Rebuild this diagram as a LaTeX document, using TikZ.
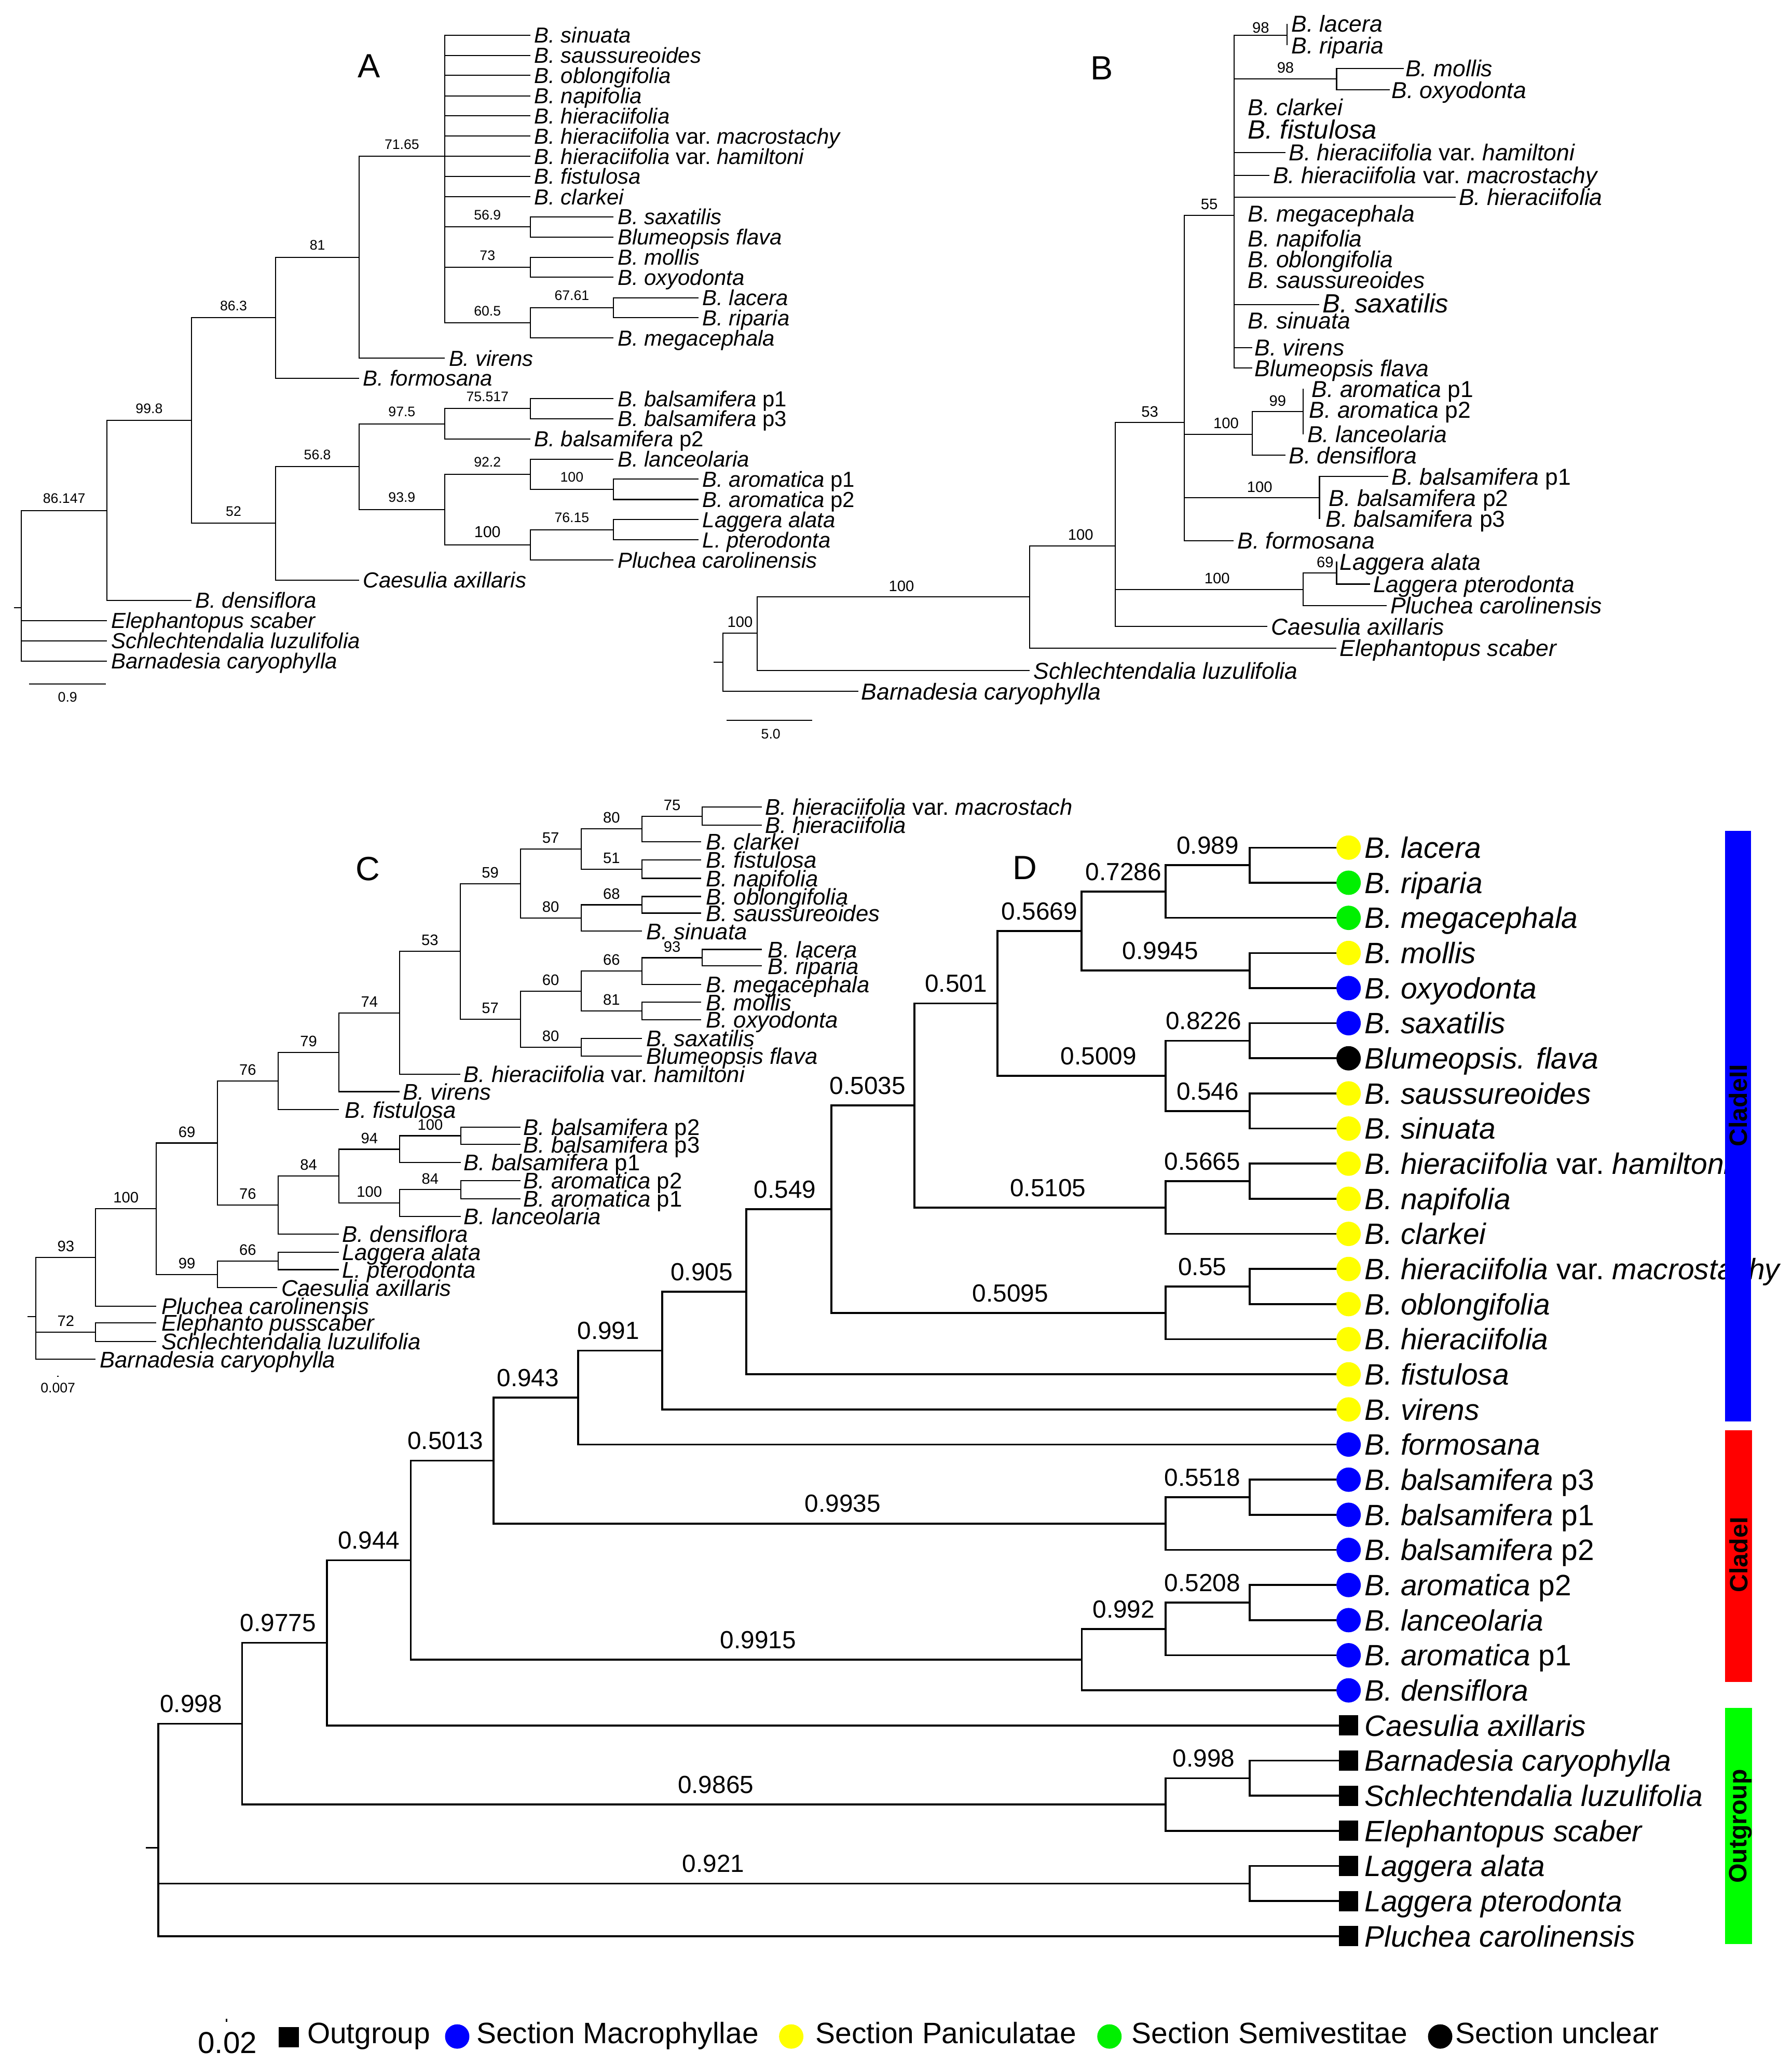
\documentclass[tikz,border=0pt]{standalone}
\usepackage{fontspec}
\setmainfont{Liberation Sans}
\definecolor{cyel}{RGB}{255,255,0}
\definecolor{cgrn}{RGB}{0,240,0}
\definecolor{cblu}{RGB}{0,0,255}
\definecolor{cred}{RGB}{255,0,0}
\definecolor{cbargrn}{RGB}{0,255,0}
\newcommand\fsz[1]{\fontsize{#1}{#1}\selectfont}
\newcommand\varup{{\upshape var.}}
\newcommand\pp[1]{{\upshape #1}}
\newcommand\leafA[5]{\coordinate (#2) at (#3,#4); \draw[brA] (#1) |- (#2); \node[lfA] (#2t) at (#3+3,#4) {#5};}
\newcommand\leafB[6]{\coordinate (#2) at (#3,#4); \draw[brB] (#1) |- (#2); \node[lfB] (#2t) at (#5,#4) {#6};}
\newcommand\leafC[6]{\coordinate (#2) at (#3,#4); \draw[brC] (#1) |- (#2); \node[lfC] (#2t) at (#5,#4) {#6};}
\newcommand\leafD[5]{\coordinate (#2) at (1016,#3); \draw[brD] (#1) |- (#2); \node[#4] (#2m) at (1023.5,#3) {}; \node[lfD] (#2t) at (1035.5,#3) {#5};}
\tikzset{
  brA/.style={line width=0.8pt},
  brB/.style={line width=0.8pt},
  brC/.style={line width=0.85pt},
  brD/.style={line width=1.4pt},
  lfA/.style={anchor=base west, inner sep=0pt, yshift=-5.9pt, font=\fsz{16.5}\itshape},
  lfB/.style={anchor=base west, inner sep=0pt, yshift=-6.3pt, font=\fsz{17.5}\itshape},
  lfC/.style={anchor=base west, inner sep=0pt, yshift=-6.2pt, font=\fsz{17.2}\itshape},
  lfD/.style={anchor=base west, inner sep=0pt, yshift=-8pt, font=\fsz{22.4}\itshape},
  bsA/.style={pos=0.75, anchor=south, inner sep=0pt, yshift=5pt, font=\fsz{10.5}},
  bsB/.style={pos=0.75, anchor=south, inner sep=0pt, yshift=3.8pt, font=\fsz{11.5}},
  bsC/.style={pos=0.75, anchor=south, inner sep=0pt, yshift=3.9pt, font=\fsz{11.5}},
  bsD/.style={pos=0.75, anchor=south, inner sep=0pt, yshift=7.7pt, font=\fsz{18.8}},
  panel/.style={inner sep=0pt, font=\fsz{25.5}},
  dotY/.style={circle, fill=cyel, inner sep=0pt, minimum size=18.5pt},
  dotG/.style={circle, fill=cgrn, inner sep=0pt, minimum size=18.5pt},
  dotB/.style={circle, fill=cblu, inner sep=0pt, minimum size=18.5pt},
  dotK/.style={circle, fill=black, inner sep=0pt, minimum size=18.5pt},
  sqK/.style={rectangle, fill=black, inner sep=0pt, minimum width=14.5pt, minimum height=15.3pt},
  lgt/.style={anchor=base west, inner sep=0pt, font=\fsz{22.4}},
  barlbl/.style={rotate=90, inner sep=0pt, font=\fsz{19}\bfseries},
  sclbl/.style={inner sep=0pt, font=\fsz{10.5}}
}
\begin{document}
\begin{tikzpicture}[x=1pt,y=-1pt]
\fill[white] (0,0) rectangle (1360,1568);
\useasboundingbox (0,0) rectangle (1360,1568);

% ================= Tree A =================
\node[panel] (pA) at (280,50) {A};
\coordinate (A0) at (16.2,461.2);
\coordinate (A0s) at (10.5,461.2);
\coordinate (A1) at (81.2,387.4);
\coordinate (A2) at (145.2,319.2);
\coordinate (A3) at (209.3,241.2);
\coordinate (A4) at (272.5,195.2);
\coordinate (A5) at (337.5,118.6);
\coordinate (A6) at (402.4,172.2);
\coordinate (A7) at (402.4,202.9);
\coordinate (A8) at (402.4,245);
\coordinate (A9) at (465.6,233.5);
\coordinate (A10) at (209.3,397.2);
\coordinate (A11) at (272.5,354.2);
\coordinate (A12) at (337.5,321.6);
\coordinate (A13) at (402.4,310.1);
\coordinate (A14) at (337.5,386.7);
\coordinate (A15) at (402.4,359.9);
\coordinate (A16) at (465.6,371.4);
\coordinate (A17) at (402.4,413.5);
\coordinate (A18) at (465.6,402);
\draw[brA] (A0s) -- (A0);
\draw[brA] (A0) |- node[bsA]{86.147} (A1);
\draw[brA] (A1) |- node[bsA]{99.8} (A2);
\draw[brA] (A2) |- node[bsA]{86.3} (A3);
\draw[brA] (A3) |- node[bsA]{81} (A4);
\draw[brA] (A4) |- node[bsA]{71.65} (A5);
\draw[brA] (A5) |- node[bsA]{56.9} (A6);
\draw[brA] (A5) |- node[bsA]{73} (A7);
\draw[brA] (A5) |- node[bsA]{60.5} (A8);
\draw[brA] (A8) |- node[bsA]{67.61} (A9);
\draw[brA] (A2) |- node[bsA]{52} (A10);
\draw[brA] (A10) |- node[bsA]{56.8} (A11);
\draw[brA] (A11) |- node[bsA]{97.5} (A12);
\draw[brA] (A12) |- node[bsA]{75.517} (A13);
\draw[brA] (A11) |- node[bsA]{93.9} (A14);
\draw[brA] (A14) |- node[bsA]{92.2} (A15);
\draw[brA] (A15) |- node[bsA]{100} (A16);
\draw[brA] (A14) |- node[bsA,font=\fsz{12}]{100} (A17);
\draw[brA] (A17) |- node[bsA]{76.15} (A18);
\leafA{A5}{a1}{402.4}{26.7}{B. sinuata}
\leafA{A5}{a2}{402.4}{42}{B. saussureoides}
\leafA{A5}{a3}{402.4}{57.3}{B. oblongifolia}
\leafA{A5}{a4}{402.4}{72.7}{B. napifolia}
\leafA{A5}{a5}{402.4}{88}{B. hieraciifolia}
\leafA{A5}{a6}{402.4}{103.3}{B. hieraciifolia \varup\ macrostachy}
\leafA{A5}{a7}{402.4}{118.6}{B. hieraciifolia \varup\ hamiltoni}
\leafA{A5}{a8}{402.4}{133.9}{B. fistulosa}
\leafA{A5}{a9}{402.4}{149.3}{B. clarkei}
\leafA{A6}{a10}{465.6}{164.6}{B. saxatilis}
\leafA{A6}{a11}{465.6}{179.9}{Blumeopsis flava}
\leafA{A7}{a12}{465.6}{195.2}{B. mollis}
\leafA{A7}{a13}{465.6}{210.5}{B. oxyodonta}
\leafA{A9}{a14}{530}{225.9}{B. lacera}
\leafA{A9}{a15}{530}{241.2}{B. riparia}
\leafA{A8}{a16}{465.6}{256.5}{B. megacephala}
\leafA{A4}{a17}{337.5}{271.8}{B. virens}
\leafA{A3}{a18}{272.5}{287.1}{B. formosana}
\leafA{A13}{a19}{465.6}{302.5}{B. balsamifera \pp{p1}}
\leafA{A13}{a20}{465.6}{317.8}{B. balsamifera \pp{p3}}
\leafA{A12}{a21}{402.4}{333.1}{B. balsamifera \pp{p2}}
\leafA{A15}{a22}{465.6}{348.4}{B. lanceolaria}
\leafA{A16}{a23}{530}{363.7}{B. aromatica \pp{p1}}
\leafA{A16}{a24}{530}{379.1}{B. aromatica \pp{p2}}
\leafA{A18}{a25}{530}{394.4}{Laggera alata}
\leafA{A18}{a26}{530}{409.7}{L. pterodonta}
\leafA{A17}{a27}{465.6}{425}{Pluchea carolinensis}
\leafA{A10}{a28}{272.5}{440.3}{Caesulia axillaris}
\leafA{A1}{a29}{145.2}{455.7}{B. densiflora}
\leafA{A0}{a30}{81.2}{471}{Elephantopus scaber}
\leafA{A0}{a31}{81.2}{486.3}{Schlechtendalia luzulifolia}
\leafA{A0}{a32}{81.2}{501.6}{Barnadesia caryophylla}
\coordinate (sA1) at (22.2,519);
\coordinate (sA2) at (80.3,519);
\draw[brA] (sA1) -- (sA2);
\node[sclbl] (sAt) at (51.3,529) {0.9};

% ================= Tree B =================
\node[panel] (pB) at (836.4,51.6) {B};
\coordinate (B0) at (548.6,502.5);
\coordinate (B0s) at (541.5,502.5);
\coordinate (B1) at (574.7,480.4);
\coordinate (B2) at (781.6,453);
\coordinate (B3) at (846.6,414.2);
\coordinate (B4) at (898.7,320.7);
\coordinate (B5) at (936.8,163.4);
\coordinate (B6) at (976.8,26.6);
\coordinate (B7) at (1014.4,59.7);
\coordinate (B8) at (950.3,329.5);
\coordinate (B9) at (988.9,312.4);
\coordinate (B10) at (1001.4,377.8);
\coordinate (B11) at (988.9,447.3);
\coordinate (B12) at (1014.4,435);
\draw[brB] (B0s) -- (B0);
\draw[brB] (B0) |- node[bsB]{100} (B1);
\draw[brB] (B1) |- node[bsB,xshift=6pt]{100} (B2);
\draw[brB] (B2) |- node[bsB,xshift=6pt]{100} (B3);
\draw[brB] (B3) |- node[bsB]{53} (B4);
\draw[brB] (B4) |- node[bsB]{55} (B5);
\draw[brB] (B5) |- node[bsB,yshift=-2.8pt]{98} (B6);
\draw[brB] (B5) |- node[bsB]{98} (B7);
\draw[brB] (B4) |- node[bsB,xshift=6pt]{100} (B8);
\draw[brB] (B8) |- node[bsB]{99} (B9);
\draw[brB] (B4) |- node[bsB,xshift=6pt]{100} (B10);
\draw[brB] (B3) |- node[bsB,xshift=6pt]{100} (B11);
\draw[brB] (B11) |- node[bsB,xshift=4pt]{69} (B12);
\leafB{B6}{b1}{976.8}{18}{980}{B. lacera}
\leafB{B6}{b2}{976.8}{34.4}{980}{B. riparia}
\leafB{B7}{b3}{1065.6}{51.9}{1066.5}{B. mollis}
\leafB{B7}{b4}{1054.9}{68.2}{1056}{B. oxyodonta}
\leafB{B5}{b5}{936.8}{81.4}{947}{B. clarkei}
\leafB{B5}{b6}{936.8}{99.2}{947}{\fsz{20}B. fistulosa}
\leafB{B5}{b7}{975.8}{115.8}{978}{B. hieraciifolia \varup\ hamiltoni}
\leafB{B5}{b8}{963.3}{133}{966}{B. hieraciifolia \varup\ macrostachy}
\leafB{B5}{b9}{1104.6}{149.6}{1107}{B. hieraciifolia}
\leafB{B5}{b10}{936.8}{162}{947}{B. megacephala}
\leafB{B5}{b11}{936.8}{181}{947}{B. napifolia}
\leafB{B5}{b12}{936.8}{196.9}{947}{B. oblongifolia}
\leafB{B5}{b13}{936.8}{212.6}{947}{B. saussureoides}
\leafB{B5}{b14}{1001.4}{231.2}{1003.5}{\fsz{20}B. saxatilis}
\leafB{B5}{b15}{936.8}{243.4}{947}{B. sinuata}
\leafB{B5}{b16}{950.3}{263.8}{952}{B. virens}
\leafB{B5}{b17}{950.3}{279.3}{952}{Blumeopsis flava}
\leafB{B9}{b18}{988.9}{295.2}{995.4}{B. aromatica \pp{p1}}
\leafB{B9}{b19}{988.9}{311}{993.5}{B. aromatica \pp{p2}}
\leafB{B9}{b20}{988.9}{329.5}{992}{B. lanceolaria}
\leafB{B8}{b21}{975.8}{345.6}{978}{B. densiflora}
\leafB{B10}{b22}{1053.5}{361.6}{1056}{B. balsamifera \pp{p1}}
\leafB{B10}{b23}{1001.4}{377.8}{1008.4}{B. balsamifera \pp{p2}}
\leafB{B10}{b24}{1001.4}{393.7}{1006}{B. balsamifera \pp{p3}}
\leafB{B4}{b25}{936.3}{410.4}{939}{B. formosana}
\leafB{B12}{b26}{1014.4}{426.2}{1016.7}{Laggera alata}
\leafB{B12}{b27}{1040}{443.3}{1042}{Laggera pterodonta}
\leafB{B11}{b28}{1052.6}{459.6}{1055}{Pluchea carolinensis}
\leafB{B3}{b29}{961.9}{475.5}{964.7}{Caesulia axillaris}
\leafB{B2}{b30}{1014.4}{491.8}{1016.7}{Elephantopus scaber}
\leafB{B1}{b31}{781.6}{508.9}{784.3}{Schlechtendalia luzulifolia}
\leafB{B0}{b32}{651.4}{524.7}{653.5}{Barnadesia caryophylla}
\coordinate (sB1) at (551.4,546.7);
\coordinate (sB2) at (616.5,546.7);
\draw[brB] (sB1) -- (sB2);
\node[sclbl] (sBt) at (585,557) {5.0};

% ================= Tree C =================
\node[panel] (pC) at (279.2,659.6) {C};
\coordinate (C0) at (27.3,999.4);
\coordinate (C0s) at (21,999.4);
\coordinate (C1) at (72.6,954.4);
\coordinate (C2) at (118.7,917.4);
\coordinate (C3) at (164.9,867.5);
\coordinate (C4) at (211.1,820.4);
\coordinate (C5) at (257.3,798.6);
\coordinate (C6) at (303.4,768.7);
\coordinate (C7) at (349.2,722);
\coordinate (C8) at (394.9,670.6);
\coordinate (C9) at (441,644.4);
\coordinate (C10) at (487.2,629.1);
\coordinate (C11) at (533,619.4);
\coordinate (C12) at (487.2,659.6);
\coordinate (C13) at (441,696.7);
\coordinate (C14) at (487.2,686.7);
\coordinate (C15) at (394.9,773.5);
\coordinate (C16) at (441,752.2);
\coordinate (C17) at (487.2,737);
\coordinate (C18) at (533,726.9);
\coordinate (C19) at (487.2,767.3);
\coordinate (C20) at (441,794.8);
\coordinate (C21) at (211.1,914.6);
\coordinate (C22) at (257.3,892.6);
\coordinate (C23) at (303.4,872.2);
\coordinate (C24) at (349.6,862);
\coordinate (C25) at (303.4,913);
\coordinate (C26) at (349.6,902.9);
\coordinate (C27) at (164.9,967.2);
\coordinate (C28) at (211.1,957);
\coordinate (C29) at (72.6,1011);
\draw[brC] (C0s) -- (C0);
\draw[brC] (C0) |- node[bsC]{93} (C1);
\draw[brC] (C1) |- node[bsC]{100} (C2);
\draw[brC] (C2) |- node[bsC]{69} (C3);
\draw[brC] (C3) |- node[bsC]{76} (C4);
\draw[brC] (C4) |- node[bsC]{79} (C5);
\draw[brC] (C5) |- node[bsC]{74} (C6);
\draw[brC] (C6) |- node[bsC]{53} (C7);
\draw[brC] (C7) |- node[bsC]{59} (C8);
\draw[brC] (C8) |- node[bsC]{57} (C9);
\draw[brC] (C9) |- node[bsC]{80} (C10);
\draw[brC] (C10) |- node[bsC]{75} (C11);
\draw[brC] (C9) |- node[bsC]{51} (C12);
\draw[brC] (C8) |- node[bsC]{80} (C13);
\draw[brC] (C13) |- node[bsC]{68} (C14);
\draw[brC] (C7) |- node[bsC]{57} (C15);
\draw[brC] (C15) |- node[bsC]{60} (C16);
\draw[brC] (C16) |- node[bsC]{66} (C17);
\draw[brC] (C17) |- node[bsC]{93} (C18);
\draw[brC] (C16) |- node[bsC]{81} (C19);
\draw[brC] (C15) |- node[bsC]{80} (C20);
\draw[brC] (C3) |- node[bsC]{76} (C21);
\draw[brC] (C21) |- node[bsC]{84} (C22);
\draw[brC] (C22) |- node[bsC]{94} (C23);
\draw[brC] (C23) |- node[bsC]{100} (C24);
\draw[brC] (C22) |- node[bsC]{100} (C25);
\draw[brC] (C25) |- node[bsC]{84} (C26);
\draw[brC] (C2) |- node[bsC]{99} (C27);
\draw[brC] (C27) |- node[bsC]{66} (C28);
\draw[brC] (C0) |- node[bsC]{72} (C29);
\leafC{C11}{c1}{578.3}{612.5}{580.5}{B. hieraciifolia \varup\ macrostach}
\leafC{C11}{c2}{578.3}{626.2}{580.5}{B. hieraciifolia}
\leafC{C10}{c3}{532}{638.8}{535.6}{B. clarkei}
\leafC{C12}{c4}{532}{652.6}{535.6}{B. fistulosa}
\leafC{C12}{c5}{532}{666.6}{535.6}{B. napifolia}
\leafC{C14}{c6}{532}{680.4}{535.6}{B. oblongifolia}
\leafC{C14}{c7}{532}{693}{535.6}{B. saussureoides}
\leafC{C13}{c8}{487.2}{706.7}{490.3}{B. sinuata}
\leafC{C18}{c9}{578.3}{720.6}{582.7}{B. lacera}
\leafC{C18}{c10}{578.3}{733.1}{582.7}{B. riparia}
\leafC{C17}{c11}{532}{747.2}{535.6}{B. megacephala}
\leafC{C19}{c12}{532}{760.7}{535.6}{B. mollis}
\leafC{C19}{c13}{532}{773.9}{535.6}{B. oxyodonta}
\leafC{C20}{c14}{487.2}{788}{490.3}{B. saxatilis}
\leafC{C20}{c15}{487.2}{801.5}{490.3}{Blumeopsis flava}
\leafC{C6}{c16}{349.2}{815.3}{351.8}{B. hieraciifolia \varup\ hamiltoni}
\leafC{C5}{c17}{303.4}{828.5}{305.6}{B. virens}
\leafC{C4}{c18}{257.3}{842.2}{261.7}{B. fistulosa}
\leafC{C24}{c19}{394.9}{855.5}{397.1}{B. balsamifera \pp{p2}}
\leafC{C24}{c20}{394.9}{868.6}{397.1}{B. balsamifera \pp{p3}}
\leafC{C23}{c21}{349.6}{882.3}{351.8}{B. balsamifera \pp{p1}}
\leafC{C26}{c22}{394.9}{896.1}{397.1}{B. aromatica \pp{p2}}
\leafC{C26}{c23}{394.9}{909.7}{397.1}{B. aromatica \pp{p1}}
\leafC{C25}{c24}{349.6}{923.1}{351.8}{B. lanceolaria}
\leafC{C21}{c25}{257.3}{936.5}{259.5}{B. densiflora}
\leafC{C28}{c26}{257.3}{950.5}{259.5}{Laggera alata}
\leafC{C28}{c27}{257.3}{963.6}{259.5}{L. pterodonta}
\leafC{C27}{c28}{210.2}{977.3}{213.3}{Caesulia axillaris}
\leafC{C1}{c29}{118.7}{991.3}{122.3}{Pluchea carolinensis}
\leafC{C29}{c30}{118.7}{1004}{122.3}{Elephanto pusscaber}
\leafC{C29}{c31}{118.7}{1018.1}{122.3}{Schlechtendalia luzulifolia}
\leafC{C0}{c32}{72.6}{1031.7}{75.6}{Barnadesia caryophylla}
\coordinate (sC1) at (43.4,1044.5);
\coordinate (sC2) at (44.6,1044.5);
\draw[brC] (sC1) -- (sC2);
\node[sclbl] (sCt) at (44,1053.3) {0.007};

% ================= Tree D =================
\node[panel] (pD) at (777.7,658.6) {D};
\coordinate (D0) at (120.2,1402.4);
\coordinate (D0s) at (110.6,1402.4);
\coordinate (D1) at (183.8,1308.2);
\coordinate (D2) at (248.2,1246.8);
\coordinate (D3) at (311.7,1184.1);
\coordinate (D4) at (374.5,1108.5);
\coordinate (D5) at (438.8,1060.7);
\coordinate (D6) at (502.6,1025);
\coordinate (D7) at (566.4,980.4);
\coordinate (D8) at (631,917.7);
\coordinate (D9) at (694,839);
\coordinate (D10) at (757,761.6);
\coordinate (D11) at (820.8,706.6);
\coordinate (D12) at (884.6,676.6);
\coordinate (D13) at (948.5,656.6);
\coordinate (D14) at (948.5,736.6);
\coordinate (D15) at (884.6,816.5);
\coordinate (D16) at (948.5,789.9);
\coordinate (D17) at (948.5,843.2);
\coordinate (D18) at (884.6,916.5);
\coordinate (D19) at (948.5,896.5);
\coordinate (D20) at (884.6,996.4);
\coordinate (D21) at (948.5,976.4);
\coordinate (D22) at (884.6,1156.3);
\coordinate (D23) at (948.5,1136.3);
\coordinate (D24) at (821,1259.6);
\coordinate (D25) at (884.6,1236.3);
\coordinate (D26) at (948.5,1216.3);
\coordinate (D27) at (884.6,1369.5);
\coordinate (D28) at (948.5,1349.5);
\coordinate (D29) at (948.5,1429.5);
\draw[brD] (D0s) -- (D0);
\draw[brD] (D0) |- node[bsD,xshift=-7pt]{0.998} (D1);
\draw[brD] (D1) |- node[bsD,xshift=-5pt]{0.9775} (D2);
\draw[brD] (D2) |- node[bsD]{0.944} (D3);
\draw[brD] (D3) |- node[bsD,xshift=-5pt]{0.5013} (D4);
\draw[brD] (D4) |- node[bsD,xshift=-6pt]{0.943} (D5);
\draw[brD] (D5) |- node[bsD,xshift=-9pt]{0.991} (D6);
\draw[brD] (D6) |- node[bsD,xshift=-2pt]{0.905} (D7);
\draw[brD] (D7) |- node[bsD,xshift=-3pt]{0.549} (D8);
\draw[brD] (D8) |- node[bsD,xshift=-4pt]{0.5035} (D9);
\draw[brD] (D9) |- node[bsD]{0.501} (D10);
\draw[brD] (D10) |- node[bsD]{0.5669} (D11);
\draw[brD] (D11) |- node[bsD]{0.7286} (D12);
\draw[brD] (D12) |- node[bsD]{0.989} (D13);
\draw[brD] (D11) |- node[bsD,xshift=-4pt]{0.9945} (D14);
\draw[brD] (D10) |- node[bsD,xshift=13pt]{0.5009} (D15);
\draw[brD] (D15) |- node[bsD,xshift=-3pt]{0.8226} (D16);
\draw[brD] (D15) |- node[bsD]{0.546} (D17);
\draw[brD] (D9) |- node[bsD,xshift=6pt]{0.5105} (D18);
\draw[brD] (D18) |- node[bsD,xshift=-4pt]{0.5665} (D19);
\draw[brD] (D8) |- node[bsD,xshift=9pt]{0.5095} (D20);
\draw[brD] (D20) |- node[bsD,xshift=-4pt]{0.55} (D21);
\draw[brD] (D4) |- node[bsD,xshift=10pt]{0.9935} (D22);
\draw[brD] (D22) |- node[bsD,xshift=-4pt]{0.5518} (D23);
\draw[brD] (D3) |- node[bsD,xshift=9pt]{0.9915} (D24);
\draw[brD] (D24) |- node[bsD]{0.992} (D25);
\draw[brD] (D25) |- node[bsD,xshift=-4pt]{0.5208} (D26);
\draw[brD] (D1) |- node[bsD,xshift=9pt]{0.9865} (D27);
\draw[brD] (D27) |- node[bsD,xshift=-3pt]{0.998} (D28);
\draw[brD] (D0) |- node[bsD,xshift=7pt]{0.921} (D29);
\leafD{D13}{d1}{643.3}{dotY}{B. lacera}
\leafD{D13}{d2}{669.95}{dotG}{B. riparia}
\leafD{D12}{d3}{696.6}{dotG}{B. megacephala}
\leafD{D14}{d4}{723.25}{dotY}{B. mollis}
\leafD{D14}{d5}{749.9}{dotB}{B. oxyodonta}
\leafD{D16}{d6}{776.55}{dotB}{B. saxatilis}
\leafD{D16}{d7}{803.2}{dotK}{Blumeopsis. flava}
\leafD{D17}{d8}{829.85}{dotY}{B. saussureoides}
\leafD{D17}{d9}{856.5}{dotY}{B. sinuata}
\leafD{D19}{d10}{883.15}{dotY}{B. hieraciifolia \varup\ hamiltoni}
\leafD{D19}{d11}{909.8}{dotY}{B. napifolia}
\leafD{D18}{d12}{936.45}{dotY}{B. clarkei}
\leafD{D21}{d13}{963.1}{dotY}{B. hieraciifolia \varup\ macrostachy}
\leafD{D21}{d14}{989.75}{dotY}{B. oblongifolia}
\leafD{D20}{d15}{1016.4}{dotY}{B. hieraciifolia}
\leafD{D7}{d16}{1043.05}{dotY}{B. fistulosa}
\leafD{D6}{d17}{1069.7}{dotY}{B. virens}
\leafD{D5}{d18}{1096.35}{dotB}{B. formosana}
\leafD{D23}{d19}{1123}{dotB}{B. balsamifera \pp{p3}}
\leafD{D23}{d20}{1149.65}{dotB}{B. balsamifera \pp{p1}}
\leafD{D22}{d21}{1176.3}{dotB}{B. balsamifera \pp{p2}}
\leafD{D26}{d22}{1202.95}{dotB}{B. aromatica \pp{p2}}
\leafD{D26}{d23}{1229.6}{dotB}{B. lanceolaria}
\leafD{D25}{d24}{1256.25}{dotB}{B. aromatica \pp{p1}}
\leafD{D24}{d25}{1282.9}{dotB}{B. densiflora}
\leafD{D2}{d26}{1309.55}{sqK}{Caesulia axillaris}
\leafD{D28}{d27}{1336.2}{sqK}{Barnadesia caryophylla}
\leafD{D28}{d28}{1362.85}{sqK}{Schlechtendalia luzulifolia}
\leafD{D27}{d29}{1389.5}{sqK}{Elephantopus scaber}
\leafD{D29}{d30}{1416.15}{sqK}{Laggera alata}
\leafD{D29}{d31}{1442.8}{sqK}{Laggera pterodonta}
\leafD{D0}{d32}{1469.45}{sqK}{Pluchea carolinensis}

% clade bars
\fill[cblu] (1309.4,630.6) rectangle (1328.8,1078.8);
\fill[cred] (1309.4,1085.4) rectangle (1329.5,1276.7);
\fill[cbargrn] (1309.4,1296.4) rectangle (1329.5,1475.5);
\node[barlbl] (bl1) at (1319.1,839) {CladeII};
\node[barlbl] (bl2) at (1319.5,1180) {CladeI};
\node[barlbl] (bl3) at (1320.8,1386) {Outgroup};

% legend
\coordinate (sD1) at (172,1532);
\coordinate (sD2) at (172,1534.6);
\draw[line width=1.2pt] (sD1) -- (sD2);
\node[anchor=base west, inner sep=0pt, font=\fsz{23}] (sDt) at (150,1558.4) {0.02};
\node[sqK, minimum width=15pt, minimum height=15.2pt] (lg1) at (219.2,1546.1) {};
\node[lgt] (lg1t) at (233,1551) {Outgroup};
\node[dotB, minimum size=18.5pt] (lg2) at (347,1545.6) {};
\node[lgt] (lg2t) at (361.4,1551) {Section Macrophyllae};
\node[dotY, minimum size=18.5pt] (lg3) at (600.5,1545.6) {};
\node[lgt] (lg3t) at (618.8,1551) {Section Paniculatae};
\node[dotG, minimum size=18.5pt] (lg4) at (842,1545.6) {};
\node[lgt] (lg4t) at (858.7,1551) {Section Semivestitae};
\node[dotK, minimum size=18.5pt] (lg5) at (1093,1545.6) {};
\node[lgt] (lg5t) at (1104.3,1551) {Section unclear};
\end{tikzpicture}
\end{document}
